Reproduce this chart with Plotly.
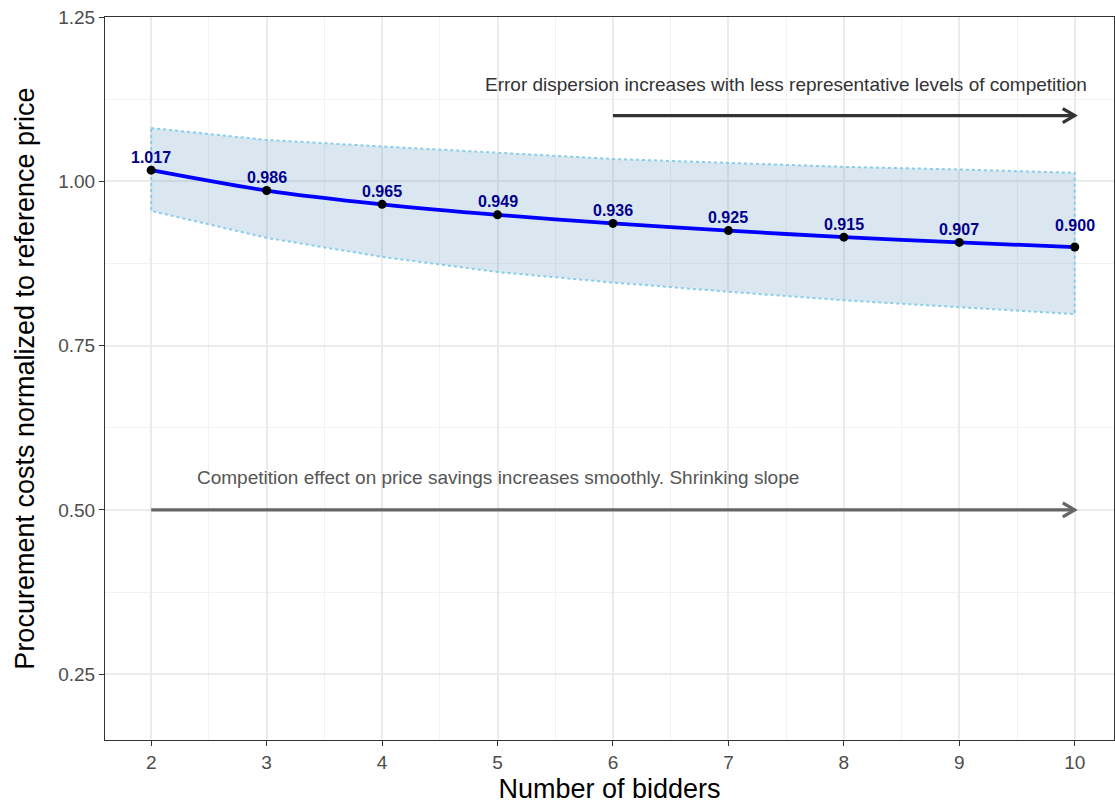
import plotly.graph_objects as go

# Predicted procurement cost by number of bidders
bidders = [2, 3, 4, 5, 6, 7, 8, 9, 10]
cost = [1.017, 0.986, 0.965, 0.949, 0.936, 0.925, 0.915, 0.907, 0.900]
upper = [1.081, 1.063, 1.053, 1.043, 1.034, 1.028, 1.022, 1.018, 1.013]
lower = [0.955, 0.914, 0.885, 0.862, 0.846, 0.832, 0.819, 0.808, 0.798]
cost_labels = [f"{v:.3f}" for v in cost]

x_ticks = [2, 3, 4, 5, 6, 7, 8, 9, 10]
y_ticks = [0.25, 0.50, 0.75, 1.00, 1.25]
y_tick_labels = ["0.25", "0.50", "0.75", "1.00", "1.25"]

# Annotation arrows: (x start, x end, y level) and their captions
top_arrow = (6, 10, 1.10)
top_text = ("Error dispersion increases with less representative levels of competition", 7.5, 1.148)
bottom_arrow = (2, 10, 0.50)
bottom_text = ("Competition effect on price savings increases smoothly. Shrinking slope", 5, 0.549)

FONT = "Liberation Sans, Arial, sans-serif"
W, H = 1115, 808
M = dict(l=105, r=1, t=17, b=68)
X_RANGE = [1.6, 10.34]
Y_RANGE = [0.15, 1.25]

px_per_x = (W - M["l"] - M["r"]) / (X_RANGE[1] - X_RANGE[0])
px_per_y = (H - M["t"] - M["b"]) / (Y_RANGE[1] - Y_RANGE[0])

fig = go.Figure()

# Uncertainty band as a closed polygon with dotted outline
fig.add_trace(go.Scatter(
    x=bidders + bidders[::-1] + [bidders[0]],
    y=upper + lower[::-1] + [upper[0]],
    mode="lines",
    fill="toself",
    fillcolor="rgba(70,130,180,0.2)",
    line=dict(color="#87CEEB", width=2, dash="dot"),
    hoverinfo="skip",
    showlegend=False,
))

# Smoothed trend line
fig.add_trace(go.Scatter(
    x=bidders, y=cost, mode="lines",
    line=dict(color="#0000FF", width=3.8, shape="spline", smoothing=0.8),
    showlegend=False,
))

# Observed points
fig.add_trace(go.Scatter(
    x=bidders, y=cost, mode="markers",
    marker=dict(color="black", size=9),
    showlegend=False, cliponaxis=False,
))


def arrow_trace(x0, x1, y, color):
    hx = 12 / px_per_x
    hy = 7 / px_per_y
    return go.Scatter(
        x=[x0, x1, None, x1 - hx, x1, x1 - hx],
        y=[y, y, None, y + hy, y, y - hy],
        mode="lines",
        line=dict(color=color, width=3.2),
        hoverinfo="skip", showlegend=False, cliponaxis=False,
    )


fig.add_trace(arrow_trace(*top_arrow, "#333333"))
fig.add_trace(arrow_trace(*bottom_arrow, "#666666"))

annotations = []
for i, (xv, yv, lab) in enumerate(zip(bidders, cost, cost_labels)):
    shift = 22 if i == len(bidders) - 1 else 13
    annotations.append(dict(
        x=xv, y=yv, text=f"<b>{lab}</b>", showarrow=False,
        yshift=shift, xanchor="center", yanchor="middle",
        font=dict(family=FONT, size=16, color="#00008B"),
    ))

annotations.append(dict(
    x=top_text[1], y=top_text[2], text=top_text[0], showarrow=False,
    xanchor="center", yanchor="middle",
    font=dict(family=FONT, size=19, color="#333333"),
))
annotations.append(dict(
    x=bottom_text[1], y=bottom_text[2], text=bottom_text[0], showarrow=False,
    xanchor="center", yanchor="middle",
    font=dict(family=FONT, size=19, color="#555555"),
))

fig.update_layout(
    width=W, height=H,
    margin=M,
    paper_bgcolor="white",
    plot_bgcolor="white",
    font=dict(family=FONT),
    annotations=annotations,
    showlegend=False,
)

fig.update_xaxes(
    range=X_RANGE,
    tickvals=x_ticks,
    ticks="outside", ticklen=5, tickcolor="#333333", tickwidth=1,
    tickfont=dict(family=FONT, size=19, color="#4D4D4D"),
    showgrid=True, gridcolor="#EBEBEB", gridwidth=1.6,
    minor=dict(dtick=0.5, tick0=1.5, showgrid=True, gridcolor="#F2F2F2", gridwidth=0.9, ticks=""),
    showline=True, linecolor="#333333", linewidth=1, mirror=True,
    zeroline=False,
    title=dict(text="Number of bidders", font=dict(family=FONT, size=27, color="black"), standoff=7),
)

fig.update_yaxes(
    range=Y_RANGE,
    tickvals=y_ticks, ticktext=y_tick_labels,
    ticks="outside", ticklen=5, tickcolor="#333333", tickwidth=1,
    tickfont=dict(family=FONT, size=19, color="#4D4D4D"),
    showgrid=True, gridcolor="#EBEBEB", gridwidth=1.6,
    minor=dict(dtick=0.125, tick0=0.125, showgrid=True, gridcolor="#F2F2F2", gridwidth=0.9, ticks=""),
    showline=True, linecolor="#333333", linewidth=1, mirror=True,
    zeroline=False,
    title=dict(text="Procurement costs normalized to reference price",
               font=dict(family=FONT, size=27, color="black"), standoff=15),
)

fig.write_html("out.html")
